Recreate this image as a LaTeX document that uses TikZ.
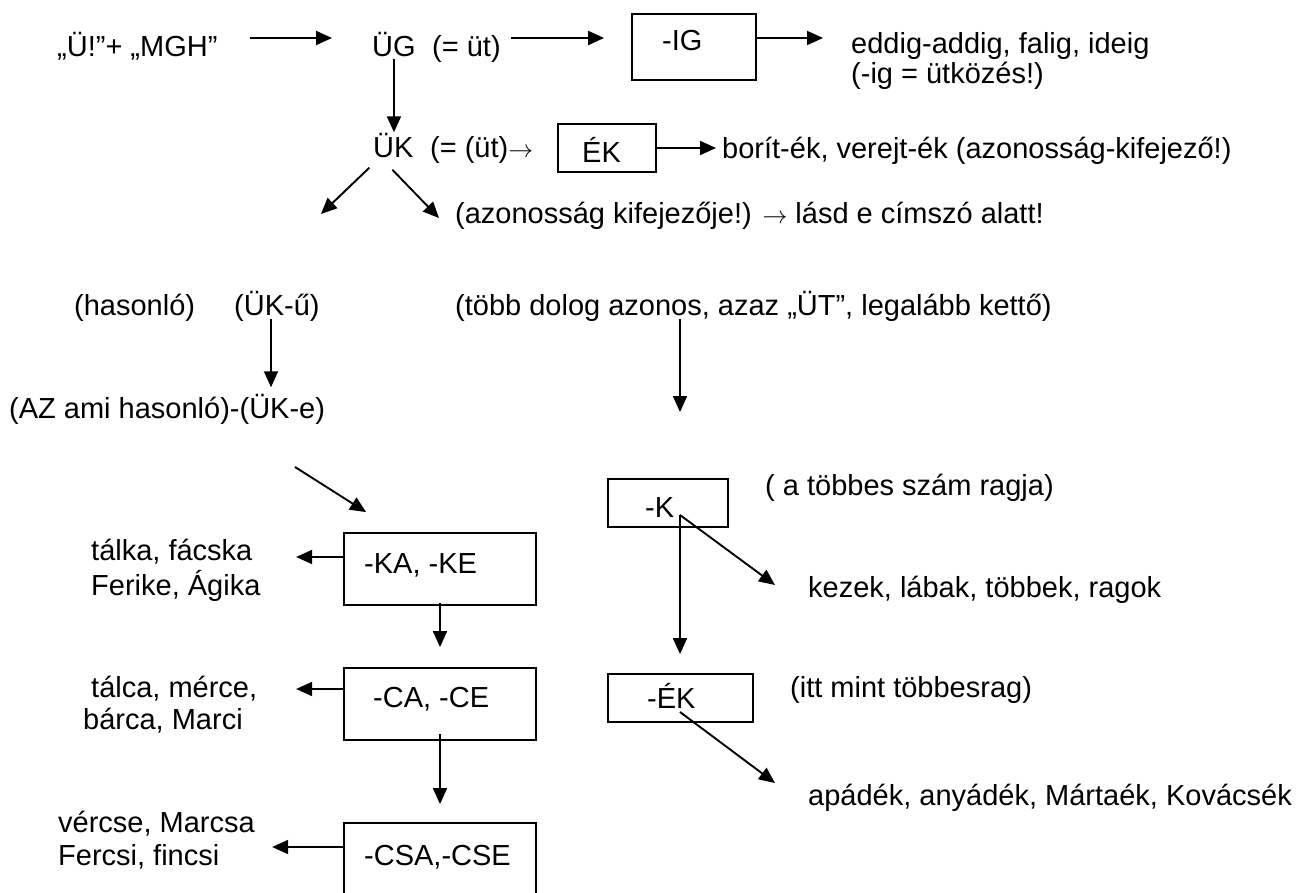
\documentclass[tikz,border=0pt]{standalone}
\usepackage{fontspec}
\setmainfont{Liberation Sans}
\usetikzlibrary{arrows.meta,calc}

\newcommand{\bodyfont}{\fontsize{29}{33}\selectfont}
% two left-aligned rows; base anchor sits on the first row's baseline
\newcommand{\TwoRows}[3]{{\fontsize{29}{#1}\selectfont\begin{tabular}[t]{@{}l@{}}#2\\#3\end{tabular}}}

\tikzset{
  txt/.style={anchor=west, inner sep=0pt, text height=21pt, text depth=0pt, font=\bodyfont},
  rows/.style={anchor=base west, inner sep=0pt, font=\bodyfont},
  box/.style={draw, line width=1.8pt, inner sep=0pt},
  arr/.style={-{Triangle[length=16pt,width=14pt]}, line width=1.9pt},
}

\begin{document}
\begin{tikzpicture}[x=1pt, y=-1pt]
\useasboundingbox (0,0) rectangle (1300,893);
\clip (0,0) rectangle (1300,893);

% ---- top row ----
\node[txt] (start) at (57,46) {„Ü!”+ „MGH”};
\node[txt] (ug) at (372,46) {ÜG};
\node[txt] (ugn) at (432,46) {(= üt)};
\node[box, minimum width=124pt, minimum height=66pt] (ig) at (694,47) {};
\node[txt] (igt) at (662,40) {-IG};
\node[rows] (eddig) at (851,54) {\TwoRows{27}{eddig-addig, falig, ideig}{(-ig = ütközés!)}};

\draw[arr] ($(start.east)+(32,-8)$) -- ($(ug.west)+(-40,-8)$);
\draw[arr] ($(ugn.east)+(10,-8)$) -- ($(ig.west)+(-27,-9)$);
\draw[arr] ($(ig.east)+(0,-9)$) -- ($(ig.east -| eddig.west)+(-28,-9)$);

% ---- second row ----
\node[txt] (uk) at (373,147) {ÜK};
\node[txt] (ukn) at (430,147) {(= (üt)$\rightarrow$};
\node[box, minimum width=98pt, minimum height=48pt] (ek) at (607,148) {};
\node[txt] (ekt) at (582,152) {ÉK};
\node[txt] (borit) at (722,148) {borít-ék, verejt-ék (azonosság-kifejező!)};

\draw[arr, shorten >=4pt] ($(ug.south)+(0,2)$) -- (ug.south |- uk.north);
\draw[arr] (ek.east |- borit.west) -- ($(borit.west)+(-6,0)$);

\node[txt] (azon) at (455,213) {(azonosság kifejezője!) $\rightarrow$ lásd e címszó alatt!};
\coordinate (ukleft) at (321,214);
\draw[arr] ($(uk.south)+(-24,10)$) -- (ukleft);
\draw[arr] ($(uk.south)+(-1,12)$) -- ($(azon.west)+(-16,5)$);

% ---- third row ----
\node[txt] (hason) at (74,305) {(hasonló)};
\node[txt] (uku) at (234,305) {(ÜK-ű)};
\node[txt] (tobb) at (455,305) {(több dolog azonos, azaz „ÜT”, legalább kettő)};
\node[txt] (az) at (9,408) {(AZ ami hasonló)-(ÜK-e)};

\draw[arr] ($(uku.south west)+(37,3)$) -- ($(az.north -| uku.south west)+(37,-10)$);
\coordinate (kdrop) at (680,412);
\draw[arr] (tobb.south -| kdrop) ++(0,3) -- (kdrop);

% ---- left column ----
\coordinate (dstart) at (295,467);
\node[box, minimum width=192pt, minimum height=72pt] (ka) at (440,569) {};
\node[txt] (kat) at (364,563) {-KA, -KE};
\node[rows] (talka) at (91,560) {\TwoRows{35}{tálka, fácska}{Ferike, Ágika}};
\draw[arr] (dstart) -- ($(ka.north west)+(23,-20)$);
\draw[arr] ($(ka.west)+(0,-12)$) -- ($(ka.west)+(-47,-12)$);

\node[box, minimum width=192pt, minimum height=72pt] (ca) at (440,704) {};
\node[txt] (cat) at (373,697) {-CA, -CE};
\node[rows] (talca) at (83,697) {\TwoRows{32}{\hspace*{8pt}tálca, mérce,}{bárca, Marci}};
\draw[arr] ($(ka.south)+(0,-3)$) -- ($(ca.north)+(0,-20)$);
\draw[arr] ($(ca.west)+(0,-15)$) -- ($(ca.west)+(-47,-15)$);

\node[box, minimum width=192pt, minimum height=120pt] (csa) at (440,883) {};
\node[txt] (csat) at (364,855) {-CSA,-CSE};
\node[rows] (vercse) at (58,832) {\TwoRows{33}{vércse, Marcsa}{Fercsi, fincsi}};
\draw[arr] ($(ca.south)+(0,-7)$) -- ($(csa.north)+(0,-18)$);
\draw[arr] ($(csa.west)+(0,-36)$) -- ($(csa.west)+(-71,-36)$);

% ---- right column ----
\node[box, minimum width=120pt, minimum height=48pt] (kb) at (668,503) {};
\node[txt] (kt) at (645,507) {-K};
\node[txt] (ragja) at (765,485) {( a többes szám ragja)};
\node[txt] (kezek) at (808,587) {kezek, lábak, többek, ragok};

\node[box, minimum width=145pt, minimum height=48pt] (ekb) at (680.5,698) {};
\node[txt] (ekt2) at (647,698) {-ÉK};
\node[txt] (itt) at (790,687) {(itt mint többesrag)};
\node[txt] (apad) at (808,795) {apádék, anyádék, Mártaék, Kovácsék};

\coordinate (kpt) at (680,515);
\coordinate (ekpt) at (680,712);
\draw[arr] (kpt) -- ($(kezek.west)+(-33,-2)$);
\draw[arr, shorten >=19pt] (kpt) -- (kpt |- ekb.north);
\draw[arr] (ekpt) -- ($(apad.west)+(-33,-12)$);
\end{tikzpicture}
\end{document}
